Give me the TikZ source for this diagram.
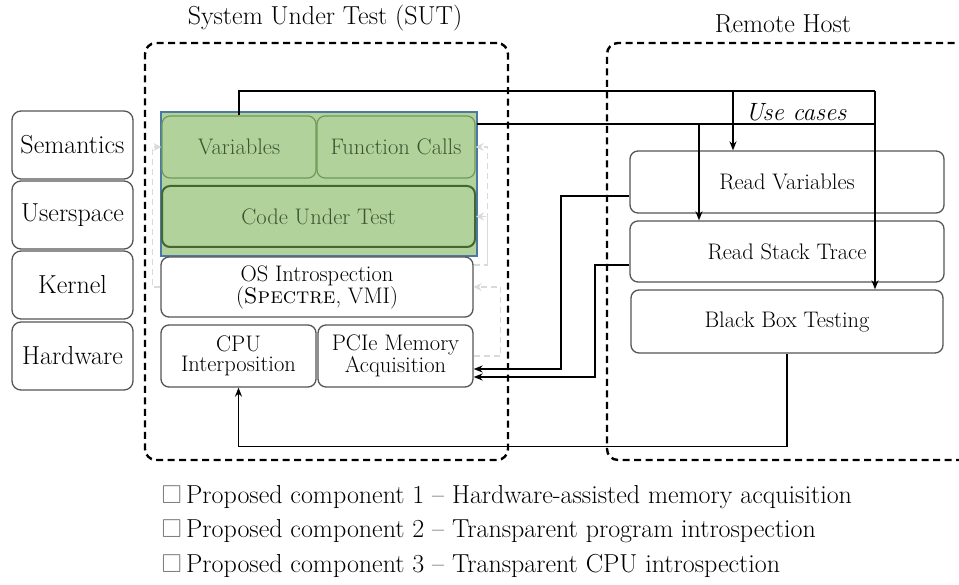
\documentclass[tikz,border=0pt]{standalone}
\usepackage{amssymb}
\usetikzlibrary{arrows.meta,calc}
\definecolor{boxgray}{HTML}{555555}
\definecolor{grnfill}{HTML}{B1D39B}
\definecolor{grnline}{HTML}{6E9A58}
\definecolor{grndark}{HTML}{43672F}
\definecolor{grntext}{HTML}{3E5532}
\definecolor{bluebox}{HTML}{4D78A6}
\definecolor{faintgray}{HTML}{DADADA}
\begin{document}
\begin{tikzpicture}[x=1pt,y=-1pt,
  font=\fontsize{26}{30}\selectfont,
  box/.style={draw=boxgray, line width=1.3pt, rounded corners=8pt, fill=white,
    align=center, inner sep=0pt, font=\fontsize{22.5}{25}\selectfont},
  lbox/.style={draw=boxgray, line width=1.3pt, rounded corners=9pt, fill=white,
    align=center, inner sep=0pt, minimum width=121pt, minimum height=68pt},
  gbox/.style={draw=grnline, line width=1.2pt, rounded corners=8pt, fill=grnfill,
    align=center, inner sep=0pt, text=grntext, font=\fontsize{22.5}{25}\selectfont},
  grpbox/.style={draw=black, line width=2.4pt, dash pattern=on 7pt off 4.5pt,
    rounded corners=11pt, inner sep=0pt},
  conn/.style={draw=black, line width=1.6pt},
  arr/.style={conn, -{Stealth[length=9pt,width=7pt]}},
  faint/.style={draw=faintgray, line width=1.4pt, dash pattern=on 6pt off 4pt,
    -{Stealth[open,length=8pt,width=8pt]}}
]
\clip (0,0) rectangle (959,585);
\fill[white] (0,0) rectangle (959,585);

% titles
\node (sutt) at (325,18) {System Under Test (SUT)};
\node (rht) at (783,24) {Remote Host};

% group boxes
\node[grpbox, minimum width=363pt, minimum height=417pt] (sut) at (326.5,251.5) {};
\node[grpbox, minimum width=393pt, minimum height=417pt] (rh) at (803.5,251.5) {};

% left layer labels
\node[lbox] (sem) at (72.5,145) {Semantics};
\node[lbox] (usr) at (72.5,215) {Userspace};
\node[lbox] (ker) at (72.5,285) {Kernel};
\node[lbox] (hw)  at (72.5,356) {Hardware};

% green group
\node[draw=bluebox, line width=1.8pt, fill=grnfill, minimum width=316pt,
  minimum height=144pt, inner sep=0pt] (grp) at (319,184) {};
\node[gbox, minimum width=154pt, minimum height=62pt] (var) at (239,147) {Variables};
\node[gbox, minimum width=158pt, minimum height=62pt] (fc) at (396,147) {Function Calls};
\node[gbox, draw=grndark, line width=2pt, minimum width=313pt, minimum height=61pt] (cut) at (318.5,216.5) {Code Under Test};

% lower SUT boxes
\node[box, minimum width=312pt, minimum height=60pt, font=\fontsize{22.5}{22}\selectfont] (os) at (317,287) {OS Introspection\\(\textsc{Spectre}, VMI)};
\node[box, minimum width=155pt, minimum height=62pt, font=\fontsize{22.5}{20}\selectfont] (cpu) at (238.5,356) {CPU\\Interposition};
\node[box, minimum width=155pt, minimum height=62pt, font=\fontsize{22.5}{20}\selectfont] (pcie) at (395.5,356) {PCIe Memory\\Acquisition};

% remote host boxes
\node[box, minimum width=314pt, minimum height=62pt] (rv) at (787,182) {Read Variables};
\node[box, minimum width=314pt, minimum height=61pt] (rst) at (787,251.5) {Read Stack Trace};
\node[box, minimum width=312pt, minimum height=63pt] (bbt) at (787,321.5) {Black Box Testing};

% use cases label
\node[font=\fontsize{25}{27}\selectfont\itshape] (uc) at (796,112) {Use cases};

% faint dashed arrows
\draw[faint] (os.west) -- ++(-8,0) |- (var.west);
\draw[faint] ([yshift=22pt]os.east) -- ++(14,0) |- (fc.east);
\draw[faint] ([yshift=22pt]os.east) ++(14,0) |- (cut.east);
\draw[faint] (pcie.east) -- ++(27,0) |- (os.east);

% connectors
\coordinate (j1) at (875,91);
\coordinate (b1) at (733,91);
\coordinate (s2) at (477,124);
\coordinate (b2) at (699,124);
\coordinate (j2) at (875,124);
\draw[conn] (var.north) |- (j1);
\draw[arr] (j1) -- (j1 |- bbt.north);
\draw[arr] (b1) -- (b1 |- rv.north);
\draw[conn] (s2) -- (j2);
\draw[arr] (b2) -- (b2 |- rst.north);

\draw[arr] ([yshift=-14pt]rv.west) -| (561,369) -- ([yshift=-13pt]pcie.east);
\draw[arr] ([yshift=-13.5pt]rst.west) -| (595,377) -- ([yshift=-21pt]pcie.east);
\draw[arr] (bbt.south) -- ++(0,93) -| (cpu.south);

% legend
\node[anchor=west] (l1) at (158,497) {\textcolor{gray}{$\square$}\,Proposed component 1 -- Hardware-assisted memory acquisition};
\node[anchor=west] (l2) at (158,531) {\textcolor{gray}{$\square$}\,Proposed component 2 -- Transparent program introspection};
\node[anchor=west] (l3) at (158,566) {\textcolor{gray}{$\square$}\,Proposed component 3 -- Transparent CPU introspection};
\end{tikzpicture}
\end{document}
